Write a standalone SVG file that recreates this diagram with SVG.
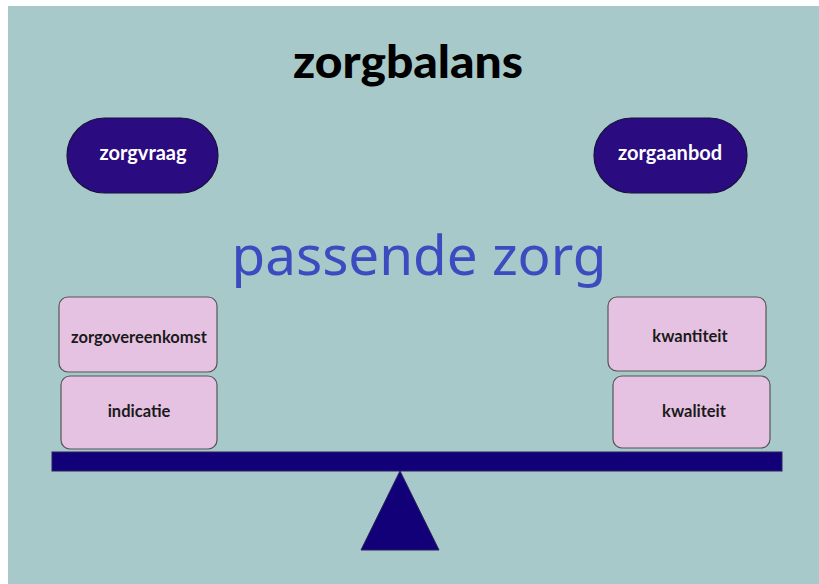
<svg xmlns="http://www.w3.org/2000/svg" width="819" height="584" viewBox="0 0 819 584">
<style>
.pill{fill:#2a0b80;stroke:#1a1040;stroke-width:1.2}
.pilltxt{font-family:Lato,"Open Sans",sans-serif;font-weight:bold;font-size:20px;fill:#ffffff;text-anchor:middle}
.box{fill:#e6c2e2;stroke:#555555;stroke-width:1.2}
.boxtxt{font-family:Lato,"Open Sans",sans-serif;font-weight:bold;font-size:16.5px;fill:#1a1a1a;text-anchor:middle}
.navy{fill:#120078;stroke:#2a2060;stroke-width:1}
</style>
<rect x="0" y="0" width="819" height="584" fill="#ffffff"/>
<rect x="8" y="6" width="811" height="578" fill="#a8c9c9"/>
<text x="408" y="78" font-family="Lato,'Open Sans',sans-serif" font-weight="900" font-size="46" fill="#000000" text-anchor="middle" textLength="230" lengthAdjust="spacingAndGlyphs">zorgbalans</text>
<g id="zorgvraag">
<rect class="pill" x="67" y="118" width="151" height="75" rx="37.5"/>
<text class="pilltxt" x="143" y="160">zorgvraag</text>
</g>
<g id="zorgaanbod">
<rect class="pill" x="594" y="118" width="153" height="75" rx="37.5"/>
<text class="pilltxt" x="670" y="160">zorgaanbod</text>
</g>
<text x="419" y="275" font-family="'Comic Sans MS','Noto Sans',sans-serif" font-size="55" fill="#3a4cbf" text-anchor="middle" textLength="375" lengthAdjust="spacingAndGlyphs">passende zorg</text>
<g id="zorgovereenkomst">
<rect class="box" x="59" y="297" width="158" height="75" rx="9"/>
<text class="boxtxt" x="139" y="343">zorgovereenkomst</text>
</g>
<g id="indicatie">
<rect class="box" x="61" y="376" width="156" height="73" rx="9"/>
<text class="boxtxt" x="139" y="417">indicatie</text>
</g>
<g id="kwantiteit">
<rect class="box" x="608" y="297" width="158" height="74" rx="9"/>
<text class="boxtxt" x="690" y="342">kwantiteit</text>
</g>
<g id="kwaliteit">
<rect class="box" x="613" y="376" width="157" height="72" rx="9"/>
<text class="boxtxt" x="694" y="417">kwaliteit</text>
</g>
<g id="balance">
<rect class="navy" x="52" y="452" width="730" height="19"/>
<polygon class="navy" points="400,471 439,550 361,550"/>
</g>
<g id="connectors"></g>
</svg>
